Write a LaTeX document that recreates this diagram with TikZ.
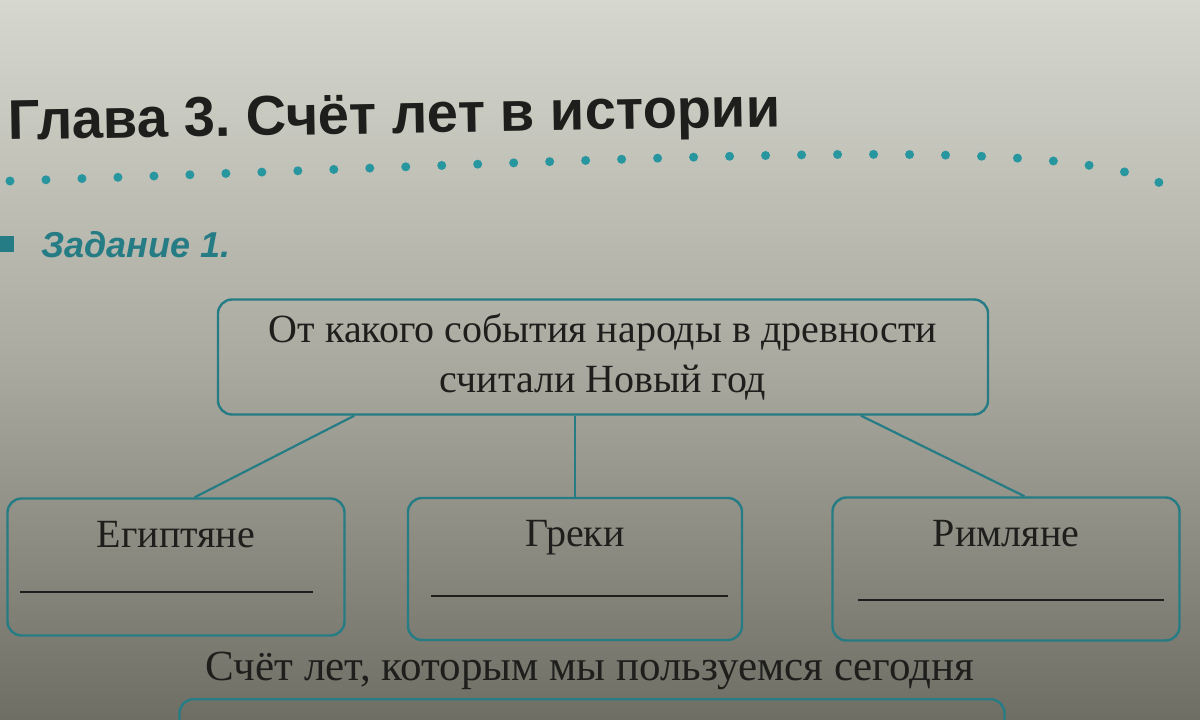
\documentclass[tikz,border=0pt]{standalone}
\usepackage{fontspec}
\setmainfont{Liberation Serif}
\setsansfont{Liberation Sans}
\frenchspacing
\usetikzlibrary{calc, positioning}
\definecolor{paperhi}{RGB}{214,215,206}
\definecolor{papermid}{RGB}{170,170,160}
\definecolor{paperlo}{RGB}{110,110,100}
\definecolor{tealline}{RGB}{38,124,132}
\definecolor{tealdot}{RGB}{40,150,158}
\definecolor{ink}{RGB}{30,30,28}
\tikzset{
  qbox/.style={draw=tealline, line width=2.4, rounded corners=14},
  link/.style={draw=tealline, line width=2.2},
  serif/.style={font=\fontsize{40}{50}\selectfont, text=ink},
  blank/.style={draw=ink, line width=1.6}
}

\begin{document}
\begin{tikzpicture}[x=1pt,y=-1pt]
\useasboundingbox (0,0) rectangle (1200,720);
\clip (0,0) rectangle (1200,720);
\shade[top color=paperhi, bottom color=paperlo, middle color=papermid] (0,0) rectangle (1200,720);

\node[anchor=base west, rotate=1, inner sep=0, font=\sffamily\bfseries\fontsize{56}{60}\selectfont, text=ink] (title) at (8,140) {Глава 3. Счёт лет в истории};
\draw[tealdot, line width=9, line cap=round, dash pattern=on 0pt off 36] (10,181) .. controls (700,158) and (1050,133) .. (1165,185);

\node[fill=tealline, minimum size=16, inner sep=0] (bullet) at (6,244) {};
\node[anchor=west, font=\sffamily\bfseries\itshape\fontsize{36}{40}\selectfont, text=tealline] (task) at (38,245) {Задание 1.};

\node[qbox, serif, align=center, minimum width=770, minimum height=115] (q) at (603,357) {От какого события народы в древности\\считали Новый год};

\node[qbox, minimum width=337, minimum height=137] (egypt) at (176,567) {};
\node[qbox, minimum width=334, minimum height=142] (greeks) at (575,569) {};
\node[qbox, minimum width=347, minimum height=143] (romans) at (1006,569) {};

\node[serif, below=20pt of egypt.north] (egyptlbl) {Египтяне};
\node[serif, below=20pt of greeks.north] (greekslbl) {Греки};
\node[serif, below=20pt of romans.north] (romanslbl) {Римляне};

\draw[blank] ($(egypt.south west)+(14,-45)$) -- ($(egypt.south east)+(-33,-45)$);
\draw[blank] ($(greeks.south west)+(24,-45)$) -- ($(greeks.south east)+(-15,-45)$);
\draw[blank] ($(romans.south west)+(27,-42)$) -- ($(romans.south east)+(-17,-42)$);

\draw[link] ($(q.south west)!0.178!(q.south east)$) -- ($(egypt.north west)!0.555!(egypt.north east)$);
\draw[link] (greeks.north |- q.south) -- (greeks.north);
\draw[link] ($(q.south west)!0.834!(q.south east)$) -- ($(romans.north west)!0.553!(romans.north east)$);

\node[serif, font=\fontsize{43}{50}\selectfont] (today) at (590,671) {Счёт лет, которым мы пользуемся сегодня};
\node[qbox, anchor=north, minimum width=825, minimum height=80] (answer) at (592,698) {};
\end{tikzpicture}
\end{document}
